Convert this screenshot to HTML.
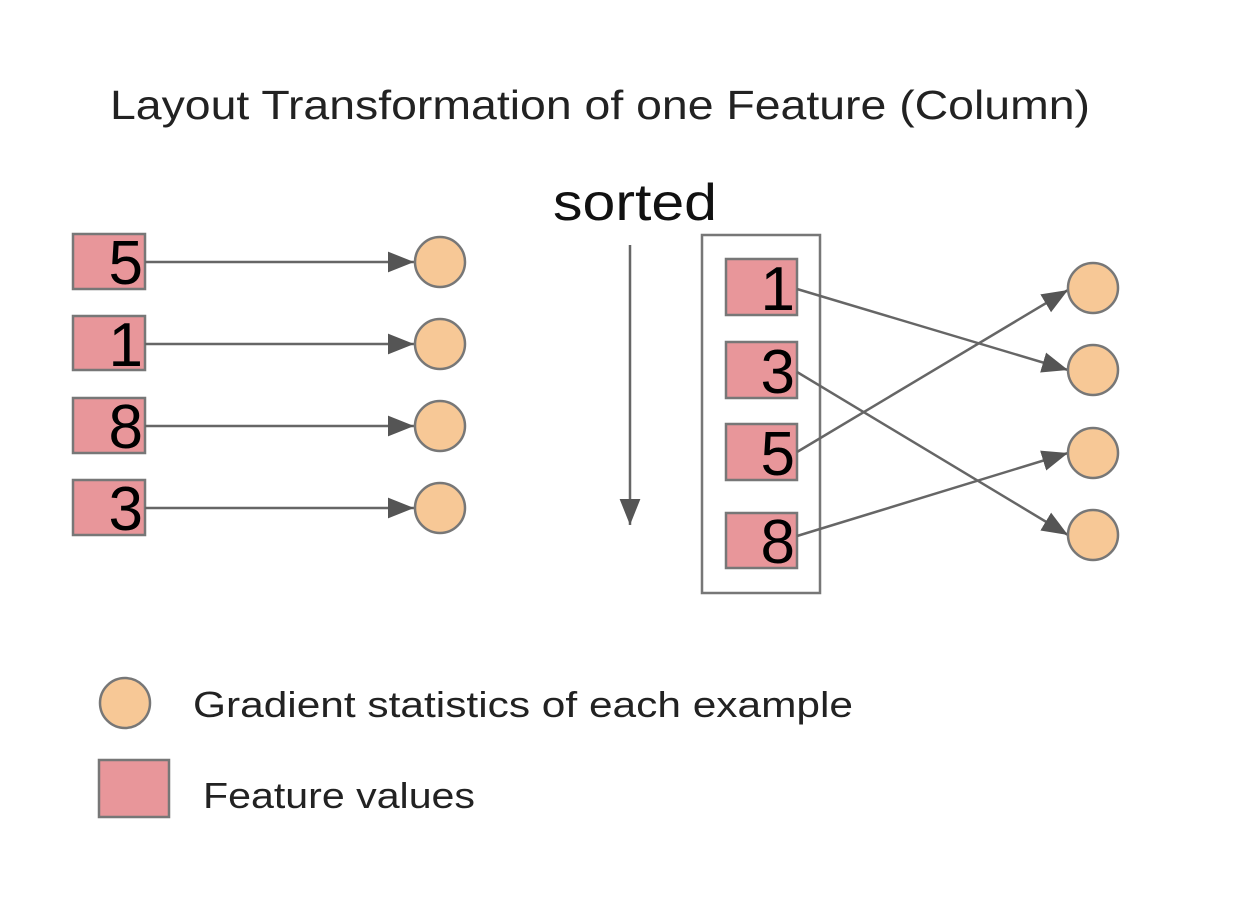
<!DOCTYPE html>
<html><head><meta charset="utf-8"><style>html,body{margin:0;padding:0;background:#fff}svg{display:block}</style></head>
<body>
<svg width="1254" height="906" viewBox="0 0 1254 906" xmlns="http://www.w3.org/2000/svg" font-family="Liberation Sans, sans-serif">
<defs>
<marker id="a" viewBox="0 0 10 10" refX="10" refY="5" markerWidth="26" markerHeight="26" markerUnits="userSpaceOnUse" orient="auto">
<path d="M0,1 L10,5 L0,9 z" fill="#555"/></marker>
</defs>
<rect width="1254" height="906" fill="#fff"/>
<text x="110" y="119" font-size="41" fill="#222" textLength="980" lengthAdjust="spacingAndGlyphs">Layout Transformation of one Feature (Column)</text>
<text x="553" y="220" font-size="52" fill="#111" textLength="164" lengthAdjust="spacingAndGlyphs">sorted</text>
<g stroke="#777" stroke-width="2.5" fill="#e8969a">
<rect x="73" y="234" width="72" height="55"/>
<rect x="73" y="316" width="72" height="54"/>
<rect x="73" y="398" width="72" height="55"/>
<rect x="73" y="480" width="72" height="55"/>
</g>
<g font-size="62" fill="#000" text-anchor="end">
<text x="143" y="284">5</text><text x="143" y="366">1</text><text x="143" y="448">8</text><text x="143" y="530">3</text>
</g>
<g stroke="#666" stroke-width="2.5" marker-end="url(#a)">
<line x1="145" y1="262" x2="414" y2="262"/>
<line x1="145" y1="344" x2="414" y2="344"/>
<line x1="145" y1="426" x2="414" y2="426"/>
<line x1="145" y1="508" x2="414" y2="508"/>
</g>
<g stroke="#777" stroke-width="2.5" fill="#f7c896">
<circle cx="440" cy="262" r="25"/><circle cx="440" cy="344" r="25"/><circle cx="440" cy="426" r="25"/><circle cx="440" cy="508" r="25"/>
</g>
<line x1="630" y1="245" x2="630" y2="525" stroke="#666" stroke-width="2.5" marker-end="url(#a)"/>
<rect x="702" y="235" width="118" height="358" fill="none" stroke="#777" stroke-width="2.5"/>
<g stroke="#777" stroke-width="2.5" fill="#e8969a">
<rect x="726" y="259" width="71" height="56"/>
<rect x="726" y="342" width="71" height="56"/>
<rect x="726" y="424" width="71" height="56"/>
<rect x="726" y="513" width="71" height="55"/>
</g>
<g font-size="62" fill="#000" text-anchor="end">
<text x="795" y="310">1</text><text x="795" y="393">3</text><text x="795" y="475">5</text><text x="795" y="563">8</text>
</g>
<g stroke="#666" stroke-width="2.5" marker-end="url(#a)">
<line x1="797" y1="289" x2="1068" y2="370"/>
<line x1="797" y1="372" x2="1068" y2="535"/>
<line x1="797" y1="452" x2="1068" y2="290"/>
<line x1="797" y1="536" x2="1068" y2="453"/>
</g>
<g stroke="#777" stroke-width="2.5" fill="#f7c896">
<circle cx="1093" cy="288" r="25"/><circle cx="1093" cy="370" r="25"/><circle cx="1093" cy="453" r="25"/><circle cx="1093" cy="535" r="25"/>
</g>
<circle cx="125" cy="703" r="25" fill="#f7c896" stroke="#777" stroke-width="2.5"/>
<text x="193" y="717" font-size="36" fill="#222" textLength="660" lengthAdjust="spacingAndGlyphs">Gradient statistics of each example</text>
<rect x="99" y="760" width="70" height="57" fill="#e8969a" stroke="#777" stroke-width="2.5"/>
<text x="203" y="808" font-size="36" fill="#222" textLength="272" lengthAdjust="spacingAndGlyphs">Feature values</text>
</svg>
</body></html>
